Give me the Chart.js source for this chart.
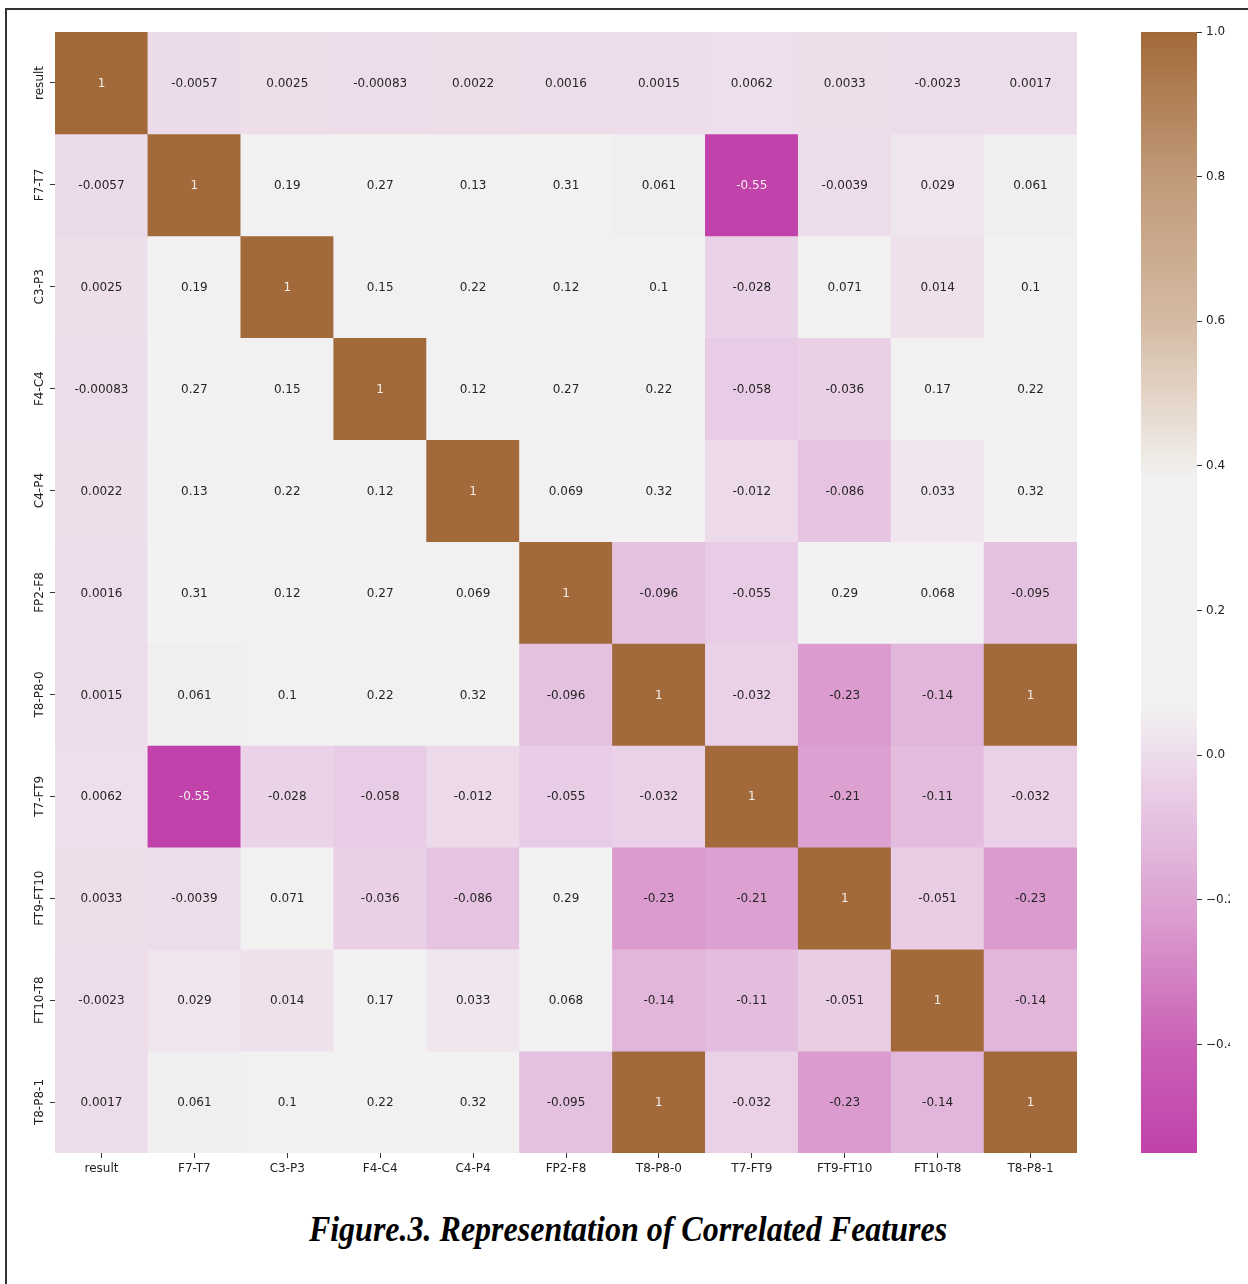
<!DOCTYPE html>
<html>
<head>
<meta charset="utf-8">
<script src="https://cdn.jsdelivr.net/npm/chart.js@4.4.0/dist/chart.umd.min.js"></script>
<style>
  body { margin: 0; background: #fff; width: 1248px; height: 1284px; overflow: hidden; position: relative; }
  #frame { position: absolute; left: 5px; top: 8px; width: 1400px; height: 1400px; border-left: 2px solid #333; border-top: 2px solid #333; }
  #heat { position: absolute; left: 0; top: 0; }
  #cbar { position: absolute; left: 1100px; top: 0; }
  #caption { position: absolute; left: 0; width: 1256px; top: 1208px; text-align: center;
    font-family: "Liberation Serif", serif; font-weight: bold; font-style: italic; font-size: 32px; color: #000;
    transform: scaleY(1.15); transform-origin: center top; }
</style>
</head>
<body>
<div id="frame"></div>
<canvas id="heat" width="1090" height="1185"></canvas>
<canvas id="cbar" width="130" height="1185"></canvas>
<div id="caption">Figure.3. Representation of Correlated Features</div>
<script>
// feature names (same order for rows and columns)
const features = ['result', 'F7-T7', 'C3-P3', 'F4-C4', 'C4-P4', 'FP2-F8', 'T8-P8-0', 'T7-FT9', 'FT9-FT10', 'FT10-T8', 'T8-P8-1'];

// correlation rows
const rowResult  = [1, -0.0057, 0.0025, -0.00083, 0.0022, 0.0016, 0.0015, 0.0062, 0.0033, -0.0023, 0.0017];
const rowF7T7    = [-0.0057, 1, 0.19, 0.27, 0.13, 0.31, 0.061, -0.55, -0.0039, 0.029, 0.061];
const rowC3P3    = [0.0025, 0.19, 1, 0.15, 0.22, 0.12, 0.1, -0.028, 0.071, 0.014, 0.1];
const rowF4C4    = [-0.00083, 0.27, 0.15, 1, 0.12, 0.27, 0.22, -0.058, -0.036, 0.17, 0.22];
const rowC4P4    = [0.0022, 0.13, 0.22, 0.12, 1, 0.069, 0.32, -0.012, -0.086, 0.033, 0.32];
const rowFP2F8   = [0.0016, 0.31, 0.12, 0.27, 0.069, 1, -0.096, -0.055, 0.29, 0.068, -0.095];
const rowT8P80   = [0.0015, 0.061, 0.1, 0.22, 0.32, -0.096, 1, -0.032, -0.23, -0.14, 1];
const rowT7FT9   = [0.0062, -0.55, -0.028, -0.058, -0.012, -0.055, -0.032, 1, -0.21, -0.11, -0.032];
const rowFT9FT10 = [0.0033, -0.0039, 0.071, -0.036, -0.086, 0.29, -0.23, -0.21, 1, -0.051, -0.23];
const rowFT10T8  = [-0.0023, 0.029, 0.014, 0.17, 0.033, 0.068, -0.14, -0.11, -0.051, 1, -0.14];
const rowT8P81   = [0.0017, 0.061, 0.1, 0.22, 0.32, -0.095, 1, -0.032, -0.23, -0.14, 1];

const matrix = [rowResult, rowF7T7, rowC3P3, rowF4C4, rowC4P4, rowFP2F8, rowT8P80, rowT7FT9, rowFT9FT10, rowFT10T8, rowT8P81];

// colorbar ticks
const cbarTicks = [-0.4, -0.2, 0.0, 0.2, 0.4, 0.6, 0.8, 1.0];

const vmin = Math.min(...matrix.flat());
const vmax = Math.max(...matrix.flat());

// colormap stops sampled from the colorbar
const cmapStops = [
  [-0.55, [192, 66, 170]],
  [-0.4,  [201, 97, 182]],
  [-0.23, [219, 155, 206]],
  [-0.1,  [229, 192, 223]],
  [-0.03, [234, 210, 232]],
  [0.0,   [237, 221, 234]],
  [0.07,  [242, 241, 242]],
  [0.38,  [242, 242, 242]],
  [0.42,  [238, 232, 227]],
  [0.6,   [212, 186, 163]],
  [0.8,   [193, 154, 120]],
  [1.0,   [162, 106, 58]]
];

function colorFor(v) {
  if (v <= cmapStops[0][0]) return rgb(cmapStops[0][1]);
  for (let i = 1; i < cmapStops.length; i++) {
    const [v1, c1] = cmapStops[i];
    const [v0, c0] = cmapStops[i - 1];
    if (v <= v1) {
      const t = (v - v0) / (v1 - v0);
      return rgb(c0.map((c, k) => c + (c1[k] - c) * t));
    }
  }
  return rgb(cmapStops[cmapStops.length - 1][1]);
}
function rgb(c) { return 'rgb(' + c.map(Math.round).join(',') + ')'; }

const tickFont = { family: 'DejaVu Sans', size: 12 };

// text inside cells
const annotate = {
  id: 'annotate',
  afterDatasetsDraw(chart) {
    const ctx = chart.ctx;
    ctx.save();
    ctx.font = '12px "DejaVu Sans"';
    ctx.textAlign = 'center';
    ctx.textBaseline = 'middle';
    chart.data.datasets.forEach((ds, r) => {
      chart.getDatasetMeta(r).data.forEach((el, c) => {
        const v = matrix[r][c];
        ctx.fillStyle = (v > 0.75 || v < -0.45) ? '#f4efe9' : '#262626';
        ctx.fillText(String(v), el.x, (el.y + el.base) / 2 + 1);
      });
    });
    ctx.restore();
  }
};

new Chart(document.getElementById('heat'), {
  type: 'bar',
  data: {
    labels: features,
    datasets: matrix.map((row, r) => ({
      label: features[r],
      data: row.map(() => [r, r + 1]),
      backgroundColor: row.map(colorFor),
      borderWidth: 0,
      grouped: false,
      barPercentage: 1,
      categoryPercentage: 1
    }))
  },
  options: {
    responsive: false,
    animation: false,
    layout: { padding: { left: 0, top: 32, right: 13, bottom: 0 } },
    plugins: { legend: { display: false }, tooltip: { enabled: false } },
    scales: {
      x: {
        type: 'category',
        offset: true,
        grid: { display: true, offset: false, drawOnChartArea: false, drawTicks: true, tickLength: 5, color: '#333' },
        border: { display: false },
        ticks: { font: tickFont, color: '#222', padding: 4, maxRotation: 0, autoSkip: false },
        afterFit(s) { s.height = 32; }
      },
      y: {
        type: 'linear',
        min: 0,
        max: features.length,
        reverse: true,
        grid: { display: true, drawOnChartArea: false, drawTicks: true, tickLength: 5, color: '#333' },
        border: { display: false },
        afterBuildTicks(s) { s.ticks = features.map((f, i) => ({ value: i + 0.5 })); },
        ticks: {
          font: tickFont, color: '#222', padding: -18, minRotation: 90, maxRotation: 90, autoSkip: false,
          crossAlign: 'center',
          callback: (v) => features[Math.round(v - 0.5)]
        },
        afterFit(s) { s.width = 55; }
      }
    }
  },
  plugins: [annotate]
});

// colorbar
new Chart(document.getElementById('cbar'), {
  type: 'bar',
  data: {
    labels: [''],
    datasets: [{
      data: [[vmin, vmax]],
      borderWidth: 0,
      barPercentage: 1,
      categoryPercentage: 1,
      backgroundColor(ctx) {
        const area = ctx.chart.chartArea;
        if (!area) return '#ccc';
        const g = ctx.chart.ctx.createLinearGradient(0, area.bottom, 0, area.top);
        for (let i = 0; i <= 60; i++) {
          const v = vmin + (vmax - vmin) * i / 60;
          g.addColorStop(i / 60, colorFor(v));
        }
        return g;
      }
    }]
  },
  options: {
    responsive: false,
    animation: false,
    layout: { padding: { left: 41, top: 32, right: 0, bottom: 32 } },
    plugins: { legend: { display: false }, tooltip: { enabled: false } },
    scales: {
      x: { display: false },
      y: {
        position: 'right',
        min: vmin,
        max: vmax,
        grid: { display: true, drawOnChartArea: false, drawTicks: true, tickLength: 5, color: '#333' },
        border: { display: false },
        afterBuildTicks(s) { s.ticks = cbarTicks.map(v => ({ value: v })); },
        ticks: {
          font: tickFont, color: '#222', padding: 4,
          callback: (v) => v.toFixed(1).replace('-', '\u2212')
        },
        afterFit(s) { s.width = 33; }
      }
    }
  }
});
</script>
</body>
</html>
